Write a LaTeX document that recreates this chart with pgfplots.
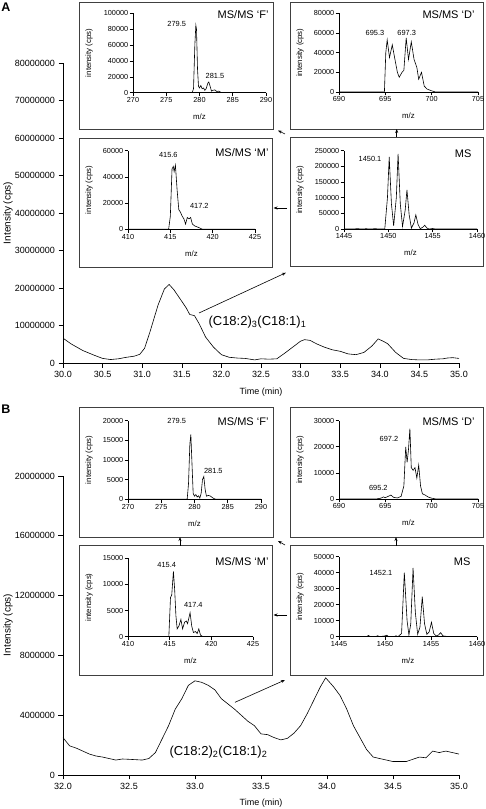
\documentclass[border=0pt]{standalone}
\usepackage{fontspec}
\setmainfont{Liberation Sans}
\usepackage{pgfplots}
\pgfplotsset{compat=1.18}
\usetikzlibrary{arrows.meta}

\pgfplotsset{
 base/.style={scale only axis, anchor=south west, axis x line*=bottom, axis y line*=left,
   tick align=outside, scaled x ticks=false, scaled y ticks=false,
   /pgf/number format/assume math mode=true,
   axis line style={black,line width=0.6pt}, tick style={black,line width=0.6pt},
   yticklabel style={/pgf/number format/.cd,fixed,1000 sep={}},
   xticklabel style={/pgf/number format/.cd,fixed,1000 sep={}}},
 mainax/.style={base, major tick length=4.5pt,
   ticklabel style={font=\fontsize{9}{10}\selectfont},
   xticklabel style={/pgf/number format/.cd,fixed,fixed zerofill,precision=1},
   ymin=0},
 inset/.style={base, major tick length=3.3pt, ymin=0,
   ticklabel style={font=\fontsize{7.3}{8}\selectfont, inner sep=1.3pt}},
 trace/.style={black, line width=0.6pt, no marks},
}
\newcommand{\ttl}{\fontsize{11}{12}\selectfont}
\newcommand{\lbl}{\fontsize{7.8}{8}\selectfont}
\newcommand{\pk}{\fontsize{7.4}{8}\selectfont}

\begin{document}
\begin{tikzpicture}[x=1pt,y=1pt]
\path[use as bounding box] (0,0) rectangle (485,809);

%================ PANEL A =================
\begin{axis}[mainax, at={(63pt,445.7pt)}, width=396pt, height=300.3pt,
  xmin=30, xmax=35, ymax=80000000,
  xtick={30,30.5,31,31.5,32,32.5,33,33.5,34,34.5,35},
  ytick={0,10000000,20000000,30000000,40000000,50000000,60000000,70000000,80000000}]
\addplot[trace] coordinates {
(30.00,6.7e6)(30.10,5.2e6)(30.25,3.4e6)(30.40,2.1e6)(30.50,1.3e6)(30.60,1.0e6)(30.70,1.2e6)
(30.80,1.6e6)(30.90,1.9e6)(30.97,2.4e6)(31.03,4.0e6)(31.10,8.5e6)(31.20,15.5e6)(31.28,19.8e6)
(31.34,21.0e6)(31.40,19.6e6)(31.50,16.5e6)(31.56,14.6e6)(31.60,13.0e6)(31.66,12.7e6)(31.72,10.5e6)
(31.80,7.0e6)(31.90,4.3e6)(32.00,2.3e6)(32.10,1.6e6)(32.20,1.4e6)(32.30,1.3e6)(32.42,0.9e6)
(32.50,1.2e6)(32.60,1.1e6)(32.70,1.2e6)(32.80,2.7e6)(32.90,4.3e6)(33.00,5.9e6)(33.05,6.3e6)
(33.12,6.1e6)(33.20,5.2e6)(33.30,4.3e6)(33.40,3.6e6)(33.50,3.2e6)(33.60,2.5e6)(33.70,2.3e6)
(33.80,2.9e6)(33.90,4.6e6)(33.98,6.5e6)(34.05,5.8e6)(34.10,5.2e6)(34.20,2.9e6)(34.30,1.3e6)
(34.40,1.0e6)(34.50,0.9e6)(34.60,0.9e6)(34.70,1.1e6)(34.80,1.2e6)(34.85,1.4e6)(34.92,1.5e6)(35.00,1.3e6)};
\end{axis}
\node[font=\fontsize{10}{11}\selectfont, rotate=90] at (8,596) {Intensity (cps)};
\node[font=\fontsize{9}{10}\selectfont] at (261,417.3) {Time (min)};
\node[font=\fontsize{12.5}{13}\selectfont\bfseries] at (6,801.5) {A};
\node[font=\fontsize{13}{14}\selectfont, anchor=west] at (205,487.3) {(C18:2)\textsubscript{3}(C18:1)\textsubscript{1}};

% boxes
\draw[black!75, line width=0.7pt] (79,807) rectangle (273,680);
\draw[black!75, line width=0.7pt] (290.5,807) rectangle (483,680);
\draw[black!75, line width=0.7pt] (79,670.3) rectangle (272,542);
\draw[black!75, line width=0.7pt] (290,672) rectangle (483,542.3);

% inset F (A)
\begin{axis}[inset, at={(133pt,716.3pt)}, width=133pt, height=79.4pt,
  xmin=270, xmax=290, ymax=100000, xtick={270,275,...,290}, ytick={0,20000,...,100000}]
\addplot[trace] coordinates {(270,0)(278.9,0)(279.1,5000)(279.3,60000)(279.45,85000)(279.55,80000)
(279.7,30000)(279.85,8000)(280.0,6000)(280.2,9000)(280.4,5000)(280.6,6000)(280.8,3000)(281.0,5000)
(281.25,12000)(281.4,13500)(281.6,8000)(281.8,2000)(282.0,3000)(282.3,3500)(282.6,1500)(282.9,2000)
(283.2,500)(283.6,0)(290,0)};
\end{axis}
\node[font=\lbl, rotate=90] at (89,756) {intensity (cps)};
\node[font=\lbl] at (199.5,692.3) {m/z};
\node[font=\ttl, anchor=east] at (272,794) {MS/MS ‘F’};
\node[font=\pk] at (176.7,785) {279.5};
\node[font=\pk] at (215,733) {281.5};

% inset D (A)
\begin{axis}[inset, at={(339pt,717pt)}, width=139pt, height=78.7pt,
  xmin=690, xmax=705, ymax=80000, xtick={690,695,700,705}, ytick={0,20000,...,80000}]
\addplot[trace] coordinates {(690,0)(694.9,0)(695.05,40000)(695.2,53000)(695.45,35000)(695.75,48000)
(696.0,35000)(696.3,20000)(696.5,15000)(696.8,20000)(697.0,22000)(697.25,55000)(697.5,33000)
(697.8,51000)(698.1,33000)(698.4,25000)(698.6,13000)(698.9,20000)(699.2,6000)(699.5,3000)
(699.9,1500)(700.4,0)(705,0)};
\end{axis}
\node[font=\lbl, rotate=90] at (300,756.3) {intensity (cps)};
\node[font=\lbl] at (408.5,693) {m/z};
\node[font=\ttl, anchor=east] at (478,794) {MS/MS ‘D’};
\node[font=\pk] at (375,776) {695.3};
\node[font=\pk] at (406.7,776) {697.3};

% inset M (A)
\begin{axis}[inset, at={(128pt,579.7pt)}, width=127pt, height=78.6pt,
  xmin=410, xmax=425, ymax=60000, xtick={410,415,420,425}, ytick={0,20000,40000,60000}]
\addplot[trace] coordinates {(410,0)(414.8,0)(415.0,10000)(415.2,46000)(415.35,48000)(415.45,44000)
(415.6,49000)(415.8,30000)(416.0,15000)(416.2,13000)(416.4,10000)(416.6,8000)(416.8,4000)
(417.0,9000)(417.2,8000)(417.4,9000)(417.6,4000)(417.9,2500)(418.3,1500)(418.8,0)(425,0)};
\end{axis}
\node[font=\lbl, rotate=90] at (89,619) {intensity (cps)};
\node[font=\lbl] at (191.5,555.7) {m/z};
\node[font=\ttl, anchor=east] at (272,656.3) {MS/MS ‘M’};
\node[font=\pk] at (168.3,654) {415.6};
\node[font=\pk] at (199.3,603) {417.2};

% inset MS (A)
\begin{axis}[inset, at={(344pt,580pt)}, width=133pt, height=78.3pt,
  xmin=1445, xmax=1460, ymax=250000, xtick={1445,1450,1455,1460}, ytick={0,50000,...,250000}]
\addplot[trace] coordinates {(1445,0)(1446.0,0)(1446.5,1000)(1447,0)(1447.5,800)(1448,0)(1448.5,1000)
(1449.0,0)(1449.6,500)(1449.9,100000)(1450.1,230000)(1450.35,80000)(1450.6,10000)(1450.9,100000)
(1451.1,240000)(1451.35,80000)(1451.6,8000)(1451.9,60000)(1452.1,125000)(1452.35,45000)(1452.6,3000)
(1452.9,20000)(1453.1,45000)(1453.35,15000)(1453.6,1000)(1453.9,6000)(1454.1,12000)(1454.35,3000)
(1454.6,0)(1455,1500)(1455.3,0)(1460,0)};
\end{axis}
\node[font=\lbl, rotate=90] at (300,619.2) {intensity (cps)};
\node[font=\lbl] at (410.5,556) {m/z};
\node[font=\ttl, anchor=east] at (475,655) {MS};
\node[font=\pk] at (370,650) {1450.1};

% arrows A
\draw[-{Stealth[length=4pt,width=3pt]}, line width=0.6pt] (199,496) -- (286,536.3);
\draw[-{Stealth[length=4pt,width=3pt]}, line width=0.6pt] (287,601) -- (273.5,601);
\draw[-{Stealth[length=4pt,width=3pt]}, line width=0.6pt] (285,675) -- (278,678.5);
\draw[-{Stealth[length=4pt,width=3pt]}, line width=0.6pt] (396.7,672) -- (396.7,680);

%================ PANEL B =================
\begin{axis}[mainax, at={(63pt,34pt)}, width=396pt, height=299pt,
  xmin=32, xmax=35, ymax=20000000,
  xtick={32,32.5,33,33.5,34,34.5,35},
  ytick={0,4000000,8000000,12000000,16000000,20000000}]
\addplot[trace] coordinates {
(32.00,2.5e6)(32.05,1.95e6)(32.10,1.8e6)(32.20,1.4e6)(32.25,1.27e6)(32.30,1.2e6)(32.40,1.0e6)
(32.45,1.07e6)(32.50,1.05e6)(32.60,1.0e6)(32.65,1.1e6)(32.70,1.5e6)(32.75,2.4e6)(32.80,3.3e6)
(32.85,4.4e6)(32.90,5.1e6)(32.95,6.0e6)(33.00,6.3e6)(33.05,6.2e6)(33.10,6.0e6)(33.15,5.7e6)
(33.20,5.1e6)(33.30,4.4e6)(33.40,3.6e6)(33.45,3.3e6)(33.50,2.75e6)(33.55,2.7e6)(33.60,2.5e6)
(33.65,2.35e6)(33.70,2.45e6)(33.75,2.8e6)(33.80,3.3e6)(33.85,4.1e6)(33.90,5.0e6)(33.95,5.9e6)
(33.99,6.5e6)(34.05,5.9e6)(34.10,5.3e6)(34.15,4.4e6)(34.20,3.3e6)(34.25,2.5e6)(34.30,1.7e6)
(34.35,1.2e6)(34.40,1.1e6)(34.50,0.9e6)(34.60,0.9e6)(34.70,1.2e6)(34.75,1.15e6)(34.80,1.6e6)
(34.85,1.5e6)(34.90,1.6e6)(35.00,1.4e6)};
\end{axis}
\node[font=\fontsize{10}{11}\selectfont, rotate=90] at (8,184) {Intensity (cps)};
\node[font=\fontsize{9}{10}\selectfont] at (261,6.3) {Time (min)};
\node[font=\fontsize{12.5}{13}\selectfont\bfseries] at (6,400) {B};
\node[font=\fontsize{13}{14}\selectfont, anchor=west] at (166,57.3) {(C18:2)\textsubscript{2}(C18:1)\textsubscript{2}};

% boxes
\draw[black!75, line width=0.7pt] (79,402) rectangle (273,272);
\draw[black!75, line width=0.7pt] (290,402) rectangle (483,272);
\draw[black!75, line width=0.7pt] (79,263.3) rectangle (272,134);
\draw[black!75, line width=0.7pt] (290,263.3) rectangle (483,134);

% inset F (B)
\begin{axis}[inset, at={(128pt,309.7pt)}, width=133pt, height=78.6pt,
  xmin=270, xmax=290, ymax=20000, xtick={270,275,...,290}, ytick={0,5000,...,20000}]
\addplot[trace] coordinates {(270,0)(278.9,0)(279.1,4000)(279.3,14000)(279.45,16500)(279.6,10000)
(279.8,1500)(280.0,800)(280.2,1200)(280.4,600)(280.6,900)(280.8,300)(281.0,1500)(281.2,5000)
(281.4,5800)(281.6,2500)(281.8,800)(282.1,1000)(282.4,800)(282.8,300)(283.2,0)(290,0)};
\end{axis}
\node[font=\lbl, rotate=90] at (89,349) {intensity (cps)};
\node[font=\lbl] at (194.5,285.7) {m/z};
\node[font=\ttl, anchor=east] at (272,387) {MS/MS ‘F’};
\node[font=\pk] at (176.7,388.3) {279.5};
\node[font=\pk] at (213.3,338.3) {281.5};

% inset D (B)
\begin{axis}[inset, at={(339pt,310pt)}, width=139pt, height=78.3pt,
  xmin=690, xmax=705, ymax=30000, xtick={690,695,700,705}, ytick={0,10000,20000,30000}]
\addplot[trace] coordinates {(690,0)(694.0,0)(694.5,300)(694.8,800)(695.0,500)(695.3,1000)(695.6,1500)
(695.9,600)(696.3,400)(696.7,1000)(697.0,5000)(697.2,20000)(697.35,14000)(697.5,19000)(697.65,27000)
(697.8,12000)(698.0,11000)(698.2,12000)(698.4,8000)(698.6,13000)(698.8,5000)(699.0,2000)(699.3,1500)
(699.6,800)(700.0,300)(700.5,0)(705,0)};
\end{axis}
\node[font=\lbl, rotate=90] at (300,349.2) {intensity (cps)};
\node[font=\lbl] at (408.5,286) {m/z};
\node[font=\ttl, anchor=east] at (478,387.3) {MS/MS ‘D’};
\node[font=\pk] at (389,370) {697.2};
\node[font=\pk] at (378.3,321) {695.2};

% inset M (B)
\begin{axis}[inset, at={(128pt,172.3pt)}, width=125pt, height=78.4pt,
  xmin=410, xmax=425, ymax=15000, xtick={410,415,420,425}, ytick={0,5000,10000,15000}]
\addplot[trace] coordinates {(410,0)(414.9,0)(415.1,7500)(415.25,8000)(415.45,12500)(415.6,9000)
(415.75,4000)(415.9,1500)(416.1,2000)(416.35,3300)(416.55,1500)(416.8,2800)(417.0,3000)(417.15,2500)
(417.45,4600)(417.65,2000)(417.85,800)(418.1,1000)(418.3,600)(418.5,1500)(418.7,300)(419,0)(425,0)};
\end{axis}
\node[font=\lbl, rotate=90] at (89,211.5) {intensity (cps)};
\node[font=\lbl] at (190.5,148.3) {m/z};
\node[font=\ttl, anchor=east] at (272,247.3) {MS/MS ‘M’};
\node[font=\pk] at (166.7,244) {415.4};
\node[font=\pk] at (193.3,204) {417.4};

% inset MS (B)
\begin{axis}[inset, at={(339pt,172.3pt)}, width=138pt, height=80pt,
  xmin=1445, xmax=1460, ymax=50000, xtick={1445,1450,1455,1460}, ytick={0,10000,...,50000}]
\addplot[trace] coordinates {(1445,0)(1448.0,0)(1448.2,800)(1448.4,0)(1449.0,0)(1449.2,600)(1449.4,0)
(1450.0,500)(1450.2,900)(1450.4,0)(1451.0,0)(1451.2,600)(1451.4,0)(1451.8,2000)(1452.1,40000)
(1452.4,10000)(1452.6,1000)(1452.8,8000)(1453.05,43000)(1453.3,15000)(1453.55,1500)(1453.8,6000)
(1454.05,25000)(1454.3,8000)(1454.55,1500)(1454.8,3000)(1455.05,9000)(1455.3,2000)(1455.55,500)
(1455.8,1000)(1456.05,2500)(1456.3,500)(1457,0)(1460,0)};
\end{axis}
\node[font=\lbl, rotate=90] at (300,212.3) {intensity (cps)};
\node[font=\lbl] at (408,148.3) {m/z};
\node[font=\ttl, anchor=east] at (474,247.3) {MS};
\node[font=\pk] at (381,236.3) {1452.1};

% arrows B
\draw[-{Stealth[length=4pt,width=3pt]}, line width=0.6pt] (235,106.7) -- (285,129);
\draw[-{Stealth[length=4pt,width=3pt]}, line width=0.6pt] (287,194) -- (273.5,194);
\draw[-{Stealth[length=4pt,width=3pt]}, line width=0.6pt] (285,264) -- (278,268);
\draw[-{Stealth[length=4pt,width=3pt]}, line width=0.6pt] (396,263.3) -- (396,272);
\draw[-{Stealth[length=4pt,width=3pt]}, line width=0.6pt] (180,263.3) -- (180,272);
\end{tikzpicture}
\end{document}
